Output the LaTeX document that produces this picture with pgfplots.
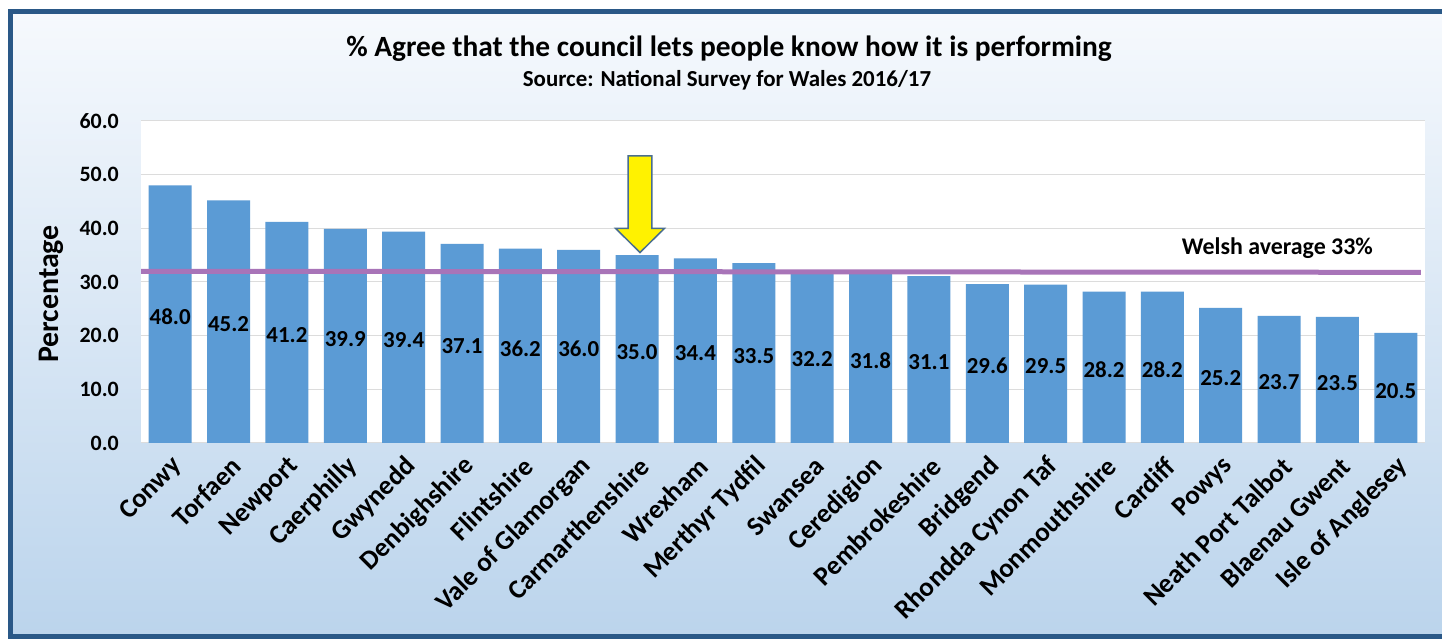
\documentclass[border=0pt]{standalone}
\usepackage{fontspec}
\setmainfont{Carlito}
\usepackage{pgfplots}
\pgfplotsset{compat=1.18}
\usepackage{pgfplotstable}
\definecolor{framec}{HTML}{2A5887}
\definecolor{barc}{HTML}{5B9BD5}
\definecolor{avgc}{HTML}{A874B8}
\definecolor{bgtop}{HTML}{F6F9FD}
\definecolor{bgbot}{HTML}{BBD4EC}
\definecolor{arrowedge}{HTML}{4A6E8E}
\definecolor{gridc}{HTML}{DCDCDC}

\pgfplotstableread{
x v
0 48.0
1 45.2
2 41.2
3 39.9
4 39.4
5 37.1
6 36.2
7 36.0
8 35.0
9 34.4
10 33.5
11 32.2
12 31.8
13 31.1
14 29.6
15 29.5
16 28.2
17 28.2
18 25.2
19 23.7
20 23.5
21 20.5
}\data

\begin{document}
\begin{tikzpicture}[x=1bp,y=1bp]
\useasboundingbox (0,0) rectangle (1442,639);
\shade[top color=bgtop,bottom color=bgbot] (10,2) rectangle (1442,627);
\draw[framec, line width=5bp] (1442,627) -- (10,627) -- (10,2) -- (1442,2);
\node[font=\bfseries\fontsize{29.5}{32}\selectfont] at (729,590) {\% Agree that the council lets people know how it is performing};
\node[font=\bfseries\fontsize{23}{26}\selectfont] at (727,559) {Source: National Survey for Wales 2016/17};
\node[rotate=90, font=\bfseries\fontsize{30}{33}\selectfont] at (51,345) {Percentage};
\begin{axis}[
  at={(141bp,196bp)}, anchor=south west,
  scale only axis, width=1284bp, height=322bp,
  xmin=-0.5, xmax=21.5, ymin=0, ymax=60,
  ytick={0,10,...,60},
  xtick={0,...,21},
  xticklabels={Conwy,Torfaen,Newport,Caerphilly,Gwynedd,Denbighshire,Flintshire,Vale of Glamorgan,Carmarthenshire,Wrexham,Merthyr Tydfil,Swansea,Ceredigion,Pembrokeshire,Bridgend,Rhondda Cynon Taf,Monmouthshire,Cardiff,Powys,Neath Port Talbot,Blaenau Gwent,Isle of Anglesey},
  axis background/.style={fill=white},
  axis line style={draw=none},
  major tick length=0pt,
  ymajorgrids, grid style={draw=gridc, line width=1bp},
  yticklabel style={font=\bfseries\fontsize{22}{24}\selectfont, inner sep=0pt, xshift=-22bp,
    /pgf/number format/.cd, fixed, fixed zerofill, precision=1, assume math mode=true},
  xticklabel style={font=\bfseries\fontsize{27}{29}\selectfont, inner sep=0pt, xshift=8bp, yshift=-19bp, rotate=45, anchor=east},
  clip=false,
]
\addplot[ybar, fill=barc, draw=none, bar width=43bp] table[x=x,y=v]{\data};
\addplot[draw=none, mark=none, point meta=explicit,
  nodes near coords={\pgfmathprintnumber[fixed,fixed zerofill,precision=1,assume math mode=true]{\pgfplotspointmeta}},
  nodes near coords style={anchor=center, font=\bfseries\fontsize{23}{25}\selectfont, text=black}]
  table[x=x, y expr=\thisrow{v}/2-0.5, meta=v]{\data};
\addplot[avgc, line width=5bp] coordinates {(-0.5,32.0) (21.43,31.8)};
\node[font=\bfseries\fontsize{24}{26}\selectfont] at (axis cs:18.97,36.4) {Welsh average 33\%};
\draw[fill=yellow, draw=arrowedge, line width=1.5bp]
  (axis cs:7.845,53.5) -- (axis cs:8.255,53.5) -- (axis cs:8.255,40.0) -- (axis cs:8.47,40.0)
  -- (axis cs:8.05,35.5) -- (axis cs:7.63,40.0) -- (axis cs:7.845,40.0) -- cycle;
\end{axis}
\end{tikzpicture}
\end{document}
